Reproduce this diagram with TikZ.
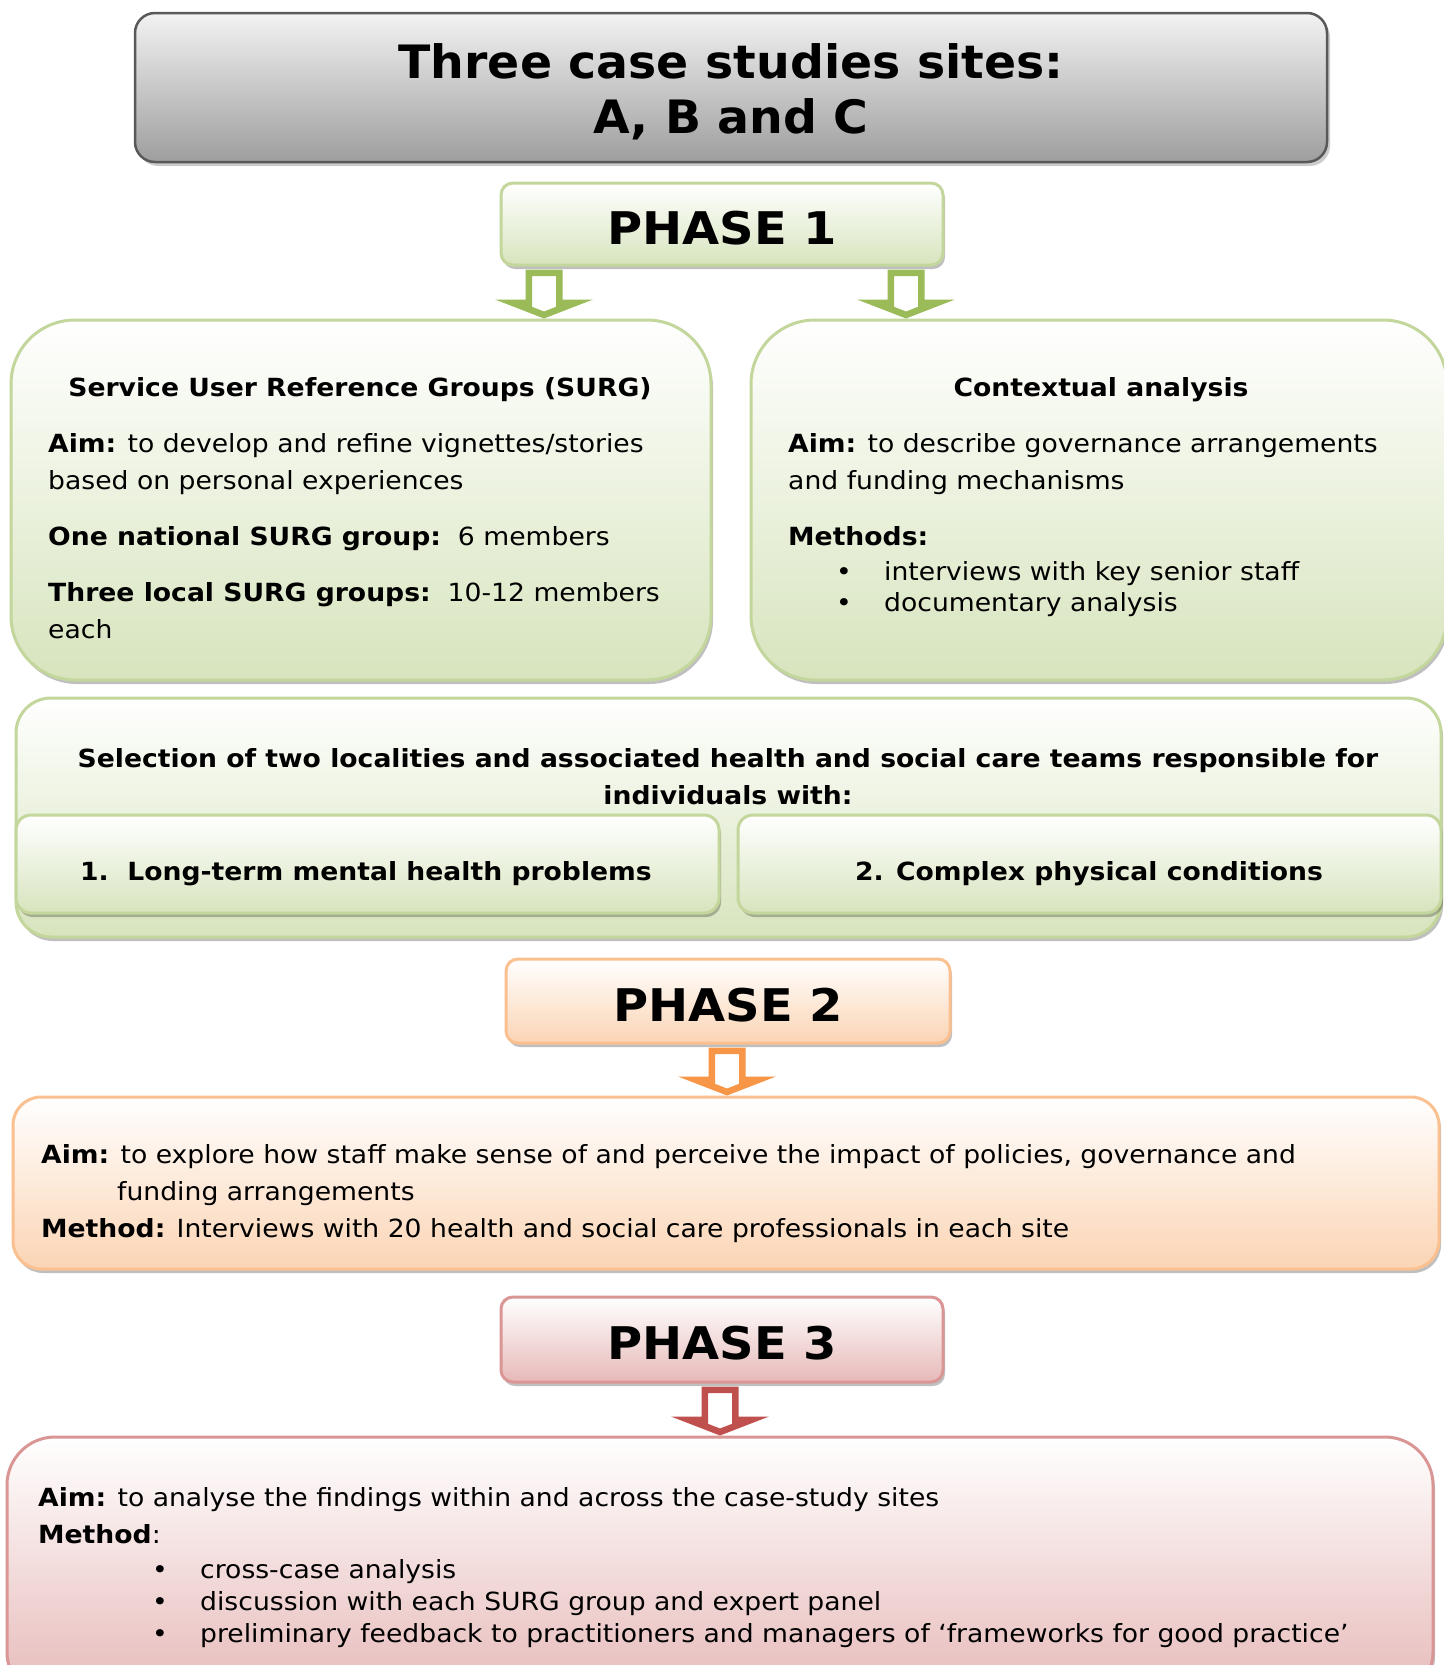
\documentclass[tikz,border=0pt]{standalone}
\usepackage{fontspec}
\setmainfont{DejaVu Sans}[FakeStretch=1.065]
\newfontfamily\headfont{DejaVu Sans}[FakeStretch=1.03]
\usetikzlibrary{shadows,calc}

\definecolor{grnline}{HTML}{C3D69B}
\definecolor{grnfill}{HTML}{D7E4BD}
\definecolor{grnarrow}{HTML}{9BBB59}
\definecolor{orgline}{HTML}{FAC090}
\definecolor{orgfill}{HTML}{FBD4B4}
\definecolor{orgarrow}{HTML}{F79646}
\definecolor{redline}{HTML}{D99694}
\definecolor{redfill}{HTML}{E6B9B8}
\definecolor{redarrow}{HTML}{C0504D}

\tikzset{
  box/.style={rectangle, inner sep=0pt, line width=3pt},
  greenbox/.style={box, draw=grnline, top color=white, bottom color=grnfill,
    drop shadow={shadow xshift=2pt, shadow yshift=-4pt, fill=black, opacity=0.25}},
  orangebox/.style={box, draw=orgline, top color=white, bottom color=orgfill,
    drop shadow={shadow xshift=2pt, shadow yshift=-4pt, fill=black, opacity=0.25}},
  redbox/.style={box, draw=redline, top color=white, bottom color=redfill,
    drop shadow={shadow xshift=2pt, shadow yshift=-4pt, fill=black, opacity=0.25}},
  phasetext/.style={font=\fontsize{45}{50}\selectfont\bfseries, text height=40pt, text depth=0pt},
  body/.style={font=\fontsize{25}{37}\selectfont},
  ln/.style={body, anchor=base west, inner sep=0pt},
  lnc/.style={body, anchor=base, inner sep=0pt},
}

% hollow block arrow pointing down from a start point to an end point
\newcommand\blockarrow[3]{%
  \fill[#1, even odd rule]
    let \p1=(#2), \p2=(#3) in
    (\x1-18.5pt,\y1-3pt) -- (\x1+18.5pt,\y1-3pt) -- (\x1+18.5pt,\y2+19pt)
    -- (\x1+49pt,\y2+19pt) -- (\x1,\y2) -- (\x1-49pt,\y2+19pt)
    -- (\x1-18.5pt,\y2+19pt) -- cycle
    (\x1-12pt,\y1-9.5pt) -- (\x1+12pt,\y1-9.5pt) -- (\x1+12pt,\y2+11.7pt)
    -- (\x1,\y2+7pt) -- (\x1-12pt,\y2+11.7pt) -- cycle;}

\begin{document}
\begin{tikzpicture}[x=1pt,y=-1pt]
\useasboundingbox (0,0) rectangle (1443,1665);
\fill[white] (0,0) rectangle (1443,1665);

% title
\node[box, draw=black!65, line width=2.5pt, rounded corners=20pt,
      top color=black!5, bottom color=black!38,
      drop shadow={shadow xshift=3pt, shadow yshift=-4pt, fill=black, opacity=0.2},
      minimum width=1192pt, minimum height=149pt]
  (title) at (731,87.5) {};
\node[align=center, inner sep=0pt, font=\fontsize{46}{55}\headfont\bfseries]
  (titletext) at (731,92) {Three case studies sites:\\A, B and C};

% phase 1
\node[greenbox, rounded corners=12pt, minimum width=442pt, minimum height=82pt, phasetext]
  (p1) at (722,224) {PHASE 1};
\node[greenbox, rounded corners=64pt, minimum width=700pt, minimum height=360pt]
  (surg) at (361,500) {};
\node[greenbox, rounded corners=64pt, minimum width=696pt, minimum height=360pt]
  (ctx) at (1099,500) {};
\coordinate (ax1) at (544,0);
\coordinate (ax2) at (906,0);
\blockarrow{grnarrow}{p1.south -| ax1}{surg.north -| ax1}
\blockarrow{grnarrow}{p1.south -| ax2}{ctx.north -| ax2}

\node[lnc] (st) at (360,396) {\bfseries Service User Reference Groups (SURG)};
\node[ln] (s1) at (48,452) {\textbf{Aim:} to develop and refine vignettes/stories};
\node[ln] (s2) at (48,489) {based on personal experiences};
\node[ln] (s3) at (48,545) {\textbf{One national SURG group:}\ \ 6 members};
\node[ln] (s4) at (48,601) {\textbf{Three local SURG groups:}\ \ 10-12 members};
\node[ln] (s5) at (48,638) {each};

\node[lnc] (ct) at (1101,396) {\bfseries Contextual analysis};
\node[ln] (c1) at (788,452) {\textbf{Aim:} to describe governance arrangements};
\node[ln] (c2) at (788,489) {and funding mechanisms};
\node[ln] (c3) at (788,545) {\textbf{Methods:}};
\node[ln] (c4) at (836,580) {\makebox[48pt][l]{•}interviews with key senior staff};
\node[ln] (c5) at (836,611) {\makebox[48pt][l]{•}documentary analysis};

% selection of localities
\node[greenbox, rounded corners=35pt, minimum width=1425pt, minimum height=239pt]
  (sel) at (728.5,817.5) {};
\node[greenbox, rounded corners=15pt, minimum width=703pt, minimum height=98pt]
  (selA) at (367.5,864) {};
\node[greenbox, rounded corners=15pt, minimum width=703pt, minimum height=98pt]
  (selB) at (1089.5,864) {};
\node[lnc] (sl1) at (728,767) {\bfseries Selection of two localities and associated health and social care teams responsible for};
\node[lnc] (sl2) at (728,804) {\bfseries individuals with:};
\node[lnc] (sa) at (366,880) {\bfseries 1.\ \ Long-term mental health problems};
\node[lnc] (sb) at (1089,880) {\bfseries 2. Complex physical conditions};

% phase 2
\node[orangebox, rounded corners=12pt, minimum width=444pt, minimum height=84pt, phasetext]
  (p2) at (728,1001) {PHASE 2};
\node[orangebox, rounded corners=28pt, minimum width=1426pt, minimum height=172pt]
  (p2b) at (726,1183) {};
\coordinate (ax3) at (727,0);
\blockarrow{orgarrow}{p2.south -| ax3}{p2b.north -| ax3}
\node[ln] (q1) at (41,1163) {\textbf{Aim:} to explore how staff make sense of and perceive the impact of policies, governance and};
\node[ln] (q2) at (117,1200) {funding arrangements};
\node[ln] (q3) at (41,1237) {\textbf{Method:} Interviews with 20 health and social care professionals in each site};

% phase 3
\node[redbox, rounded corners=12pt, minimum width=442pt, minimum height=85pt, phasetext]
  (p3) at (722,1339.5) {PHASE 3};
\node[redbox, rounded corners=48pt, minimum width=1426pt, minimum height=263pt]
  (p3b) at (720,1568.5) {};
\coordinate (ax4) at (720,0);
\blockarrow{redarrow}{p3.south -| ax4}{p3b.north -| ax4}
\node[ln] (r1) at (38,1506) {\textbf{Aim:} to analyse the findings within and across the case-study sites};
\node[ln] (r2) at (38,1543) {\textbf{Method}:};
\node[ln] (r3) at (152,1578) {\makebox[48pt][l]{•}cross-case analysis};
\node[ln] (r4) at (152,1610) {\makebox[48pt][l]{•}discussion with each SURG group and expert panel};
\node[ln] (r5) at (152,1642) {\makebox[48pt][l]{•}preliminary feedback to practitioners and managers of ‘frameworks for good practice’};
\end{tikzpicture}
\end{document}
